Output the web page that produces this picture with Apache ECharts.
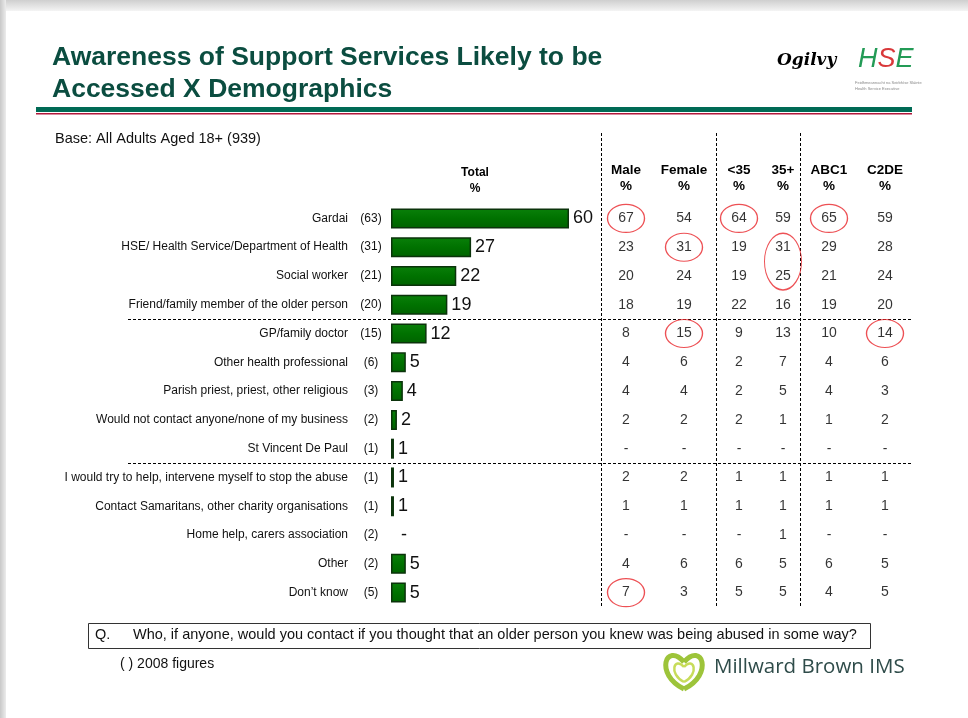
<!DOCTYPE html>
<html>
<head>
<meta charset="utf-8">
<title>Awareness of Support Services Likely to be Accessed X Demographics</title>
<script src="https://cdn.jsdelivr.net/npm/echarts@6/dist/echarts.min.js"></script>
<style>
  html, body { margin: 0; padding: 0; background: #fff; }
  #chart { width: 968px; height: 718px; }
</style>
</head>
<body>
<div id="chart"></div>
<script>
// rows, top to bottom
const services = [
  'Gardai',
  'HSE/ Health Service/Department of Health',
  'Social worker',
  'Friend/family member of the older person',
  'GP/family doctor',
  'Other health professional',
  'Parish priest, priest, other religious',
  'Would not contact anyone/none of my business',
  'St Vincent De Paul',
  'I would try to help, intervene myself to stop the abuse',
  'Contact Samaritans, other charity organisations',
  'Home help, carers association',
  'Other',
  'Don\u2019t know'
]
// ( ) 2008 figures
const figures2008 = [63, 31, 21, 20, 15, 6, 3, 2, 1, 1, 1, 2, 2, 5]
const total = [60, 27, 22, 19, 12, 5, 4, 2, 1, 1, 1, '-', 5, 5]

const male = [67, 23, 20, 18, 8, 4, 4, 2, '-', 2, 1, '-', 4, 7]
const female = [54, 31, 24, 19, 15, 6, 4, 2, '-', 2, 1, '-', 6, 3]
const under35 = [64, 19, 19, 22, 9, 2, 2, 2, '-', 1, 1, '-', 6, 5]
const over35 = [59, 31, 25, 16, 13, 7, 5, 1, '-', 1, 1, 1, 5, 5]
const abc1 = [65, 29, 21, 19, 10, 4, 4, 1, '-', 1, 1, '-', 6, 4]
const c2de = [59, 28, 24, 20, 14, 6, 3, 2, '-', 1, 1, '-', 5, 5]

const genderCols = ['Male', 'Female']
const ageCols = ['<35', '35+']
const segCols = ['ABC1', 'C2DE']

// red rings drawn on the slide: [column, row index, rows spanned]
const circled = [
  ['Male', 0, 1], ['<35', 0, 1], ['ABC1', 0, 1],
  ['Female', 1, 1], ['35+', 1, 2],
  ['Female', 4, 1], ['C2DE', 4, 1],
  ['Male', 13, 1]
]

const columnValues = {
  'Male': male, 'Female': female, '<35': under35,
  '35+': over35, 'ABC1': abc1, 'C2DE': c2de
}

const FONT = '"Liberation Sans", Arial, sans-serif'
const GRID_TOP = 204
const GRID_BOTTOM = 111
const ROW_H = (718 - GRID_TOP - GRID_BOTTOM) / services.length
const ELLIPSE = 'path://M0,50 A50,50 0 1,1 100,50 A50,50 0 1,1 0,50 Z'

let chartDom = document.getElementById('chart')
let myChart = echarts.init(chartDom, null, { renderer: 'canvas' })

function yAxisFor(gridIndex, showLabels) {
  return {
    type: 'category',
    gridIndex: gridIndex,
    data: services,
    inverse: true,
    axisLine: { show: false },
    axisTick: { show: false },
    splitLine: { show: false },
    axisLabel: showLabels ? {
      margin: 5,
      formatter: function (v, i) {
        return '{n|' + v + '}{p|(' + figures2008[i] + ')}'
      },
      rich: {
        n: { fontFamily: FONT, fontSize: 12, color: '#111', padding: [0, 8, 0, 0] },
        p: { fontFamily: FONT, fontSize: 12, color: '#111', width: 30, align: 'center' }
      }
    } : { show: false }
  }
}

function headerAxis(gridIndex, cols) {
  return {
    type: 'category',
    gridIndex: gridIndex,
    data: cols,
    position: 'top',
    axisLine: { show: false },
    axisTick: { show: false },
    splitLine: { show: false },
    axisLabel: {
      margin: 10,
      interval: 0,
      formatter: function (v) { return '{h|' + v + '}\n{h|%}' },
      rich: {
        h: { fontFamily: FONT, fontSize: 13.5, fontWeight: 'bold', color: '#000', lineHeight: 16, align: 'center' }
      }
    }
  }
}

function tableSeries(gridIndex, cols) {
  let data = []
  cols.forEach(c => {
    columnValues[c].forEach((v, i) => {
      data.push({ value: [c, services[i]], txt: String(v) })
    })
  })
  return {
    type: 'scatter',
    xAxisIndex: gridIndex,
    yAxisIndex: gridIndex,
    symbolSize: 1,
    itemStyle: { color: 'rgba(0,0,0,0)' },
    silent: true,
    label: {
      show: true,
      position: 'inside',
      fontFamily: FONT,
      fontSize: 14,
      color: '#000',
      formatter: p => p.data.txt
    },
    data: data
  }
}

function ringSeries(gridIndex, cols) {
  let data = circled.filter(c => cols.indexOf(c[0]) >= 0).map(c => ({
    value: [c[0], services[c[1]]],
    symbolSize: [37, c[2] === 1 ? 28 : 28 + ROW_H],
    symbolOffset: [0, (c[2] - 1) * ROW_H / 2]
  }))
  return {
    type: 'scatter',
    xAxisIndex: gridIndex,
    yAxisIndex: gridIndex,
    symbol: ELLIPSE,
    z: 5,
    silent: true,
    itemStyle: { color: 'rgba(0,0,0,0)', borderColor: '#e8262a', borderWidth: 1.2 },
    data: data
  }
}

function dashed(x1, y1, x2, y2) {
  return {
    type: 'line',
    silent: true,
    shape: { x1: x1, y1: y1, x2: x2, y2: y2 },
    style: { stroke: '#000', lineWidth: 1, lineDash: [3, 2] }
  }
}

function txt(x, y, text, style) {
  return {
    type: 'text', x: x, y: y, silent: true,
    style: Object.assign({ text: text, fontFamily: FONT, fill: '#111' }, style)
  }
}

function heartHalf(cx, bottom, top, dx, stroke, width) {
  return {
    type: 'bezierCurve', silent: true,
    shape: {
      x1: cx, y1: bottom, x2: cx, y2: top,
      cpx1: cx + dx * 1.0, cpy1: bottom - (bottom - top) * 0.55,
      cpx2: cx + dx * 0.6, cpy2: top - (bottom - top) * 0.75
    },
    style: { stroke: stroke, lineWidth: width, fill: null }
  }
}

const rule1 = Math.round(GRID_TOP + 4 * ROW_H) + 0.5
const rule2 = Math.round(GRID_TOP + 9 * ROW_H) + 0.5

let option = {
  animation: false,
  backgroundColor: '#fff',
  grid: [
    { left: 391, width: 178, top: GRID_TOP, bottom: GRID_BOTTOM },
    { left: 597, width: 116, top: GRID_TOP, bottom: GRID_BOTTOM },
    { left: 717, width: 88, top: GRID_TOP, bottom: GRID_BOTTOM },
    { left: 801, width: 112, top: GRID_TOP, bottom: GRID_BOTTOM }
  ],
  xAxis: [
    { type: 'value', gridIndex: 0, min: 0, max: 60, show: false },
    headerAxis(1, genderCols),
    headerAxis(2, ageCols),
    headerAxis(3, segCols)
  ],
  yAxis: [yAxisFor(0, true), yAxisFor(1, false), yAxisFor(2, false), yAxisFor(3, false)],
  series: [
    {
      name: 'Total',
      type: 'bar',
      xAxisIndex: 0,
      yAxisIndex: 0,
      barWidth: 20,
      itemStyle: {
        color: new echarts.graphic.LinearGradient(0, 0, 0, 1, [
          { offset: 0, color: '#0a800a' },
          { offset: 0.5, color: '#007200' },
          { offset: 1, color: '#006200' }
        ]),
        borderColor: '#0b330b',
        borderWidth: 1.5
      },
      label: {
        show: true,
        position: 'right',
        distance: 4,
        fontFamily: FONT,
        fontSize: 18,
        color: '#111',
        formatter: p => String(total[p.dataIndex])
      },
      data: total.map(v => (v === '-'
        ? { value: 0, itemStyle: { borderWidth: 0, color: 'rgba(0,0,0,0)' }, label: { distance: 10 } }
        : v))
    },
    tableSeries(1, genderCols),
    tableSeries(2, ageCols),
    tableSeries(3, segCols),
    ringSeries(1, genderCols),
    ringSeries(2, ageCols),
    ringSeries(3, segCols)
  ],
  graphic: [
    // slide shadow along the top and left edges
    {
      type: 'rect', silent: true, z: -10,
      shape: { x: 0, y: 0, width: 968, height: 11 },
      style: {
        fill: new echarts.graphic.LinearGradient(0, 0, 0, 1, [
          { offset: 0, color: '#cfcfcf' }, { offset: 1, color: '#f4f4f4' }
        ])
      }
    },
    {
      type: 'rect', silent: true, z: -10,
      shape: { x: 0, y: 0, width: 6, height: 718 },
      style: {
        fill: new echarts.graphic.LinearGradient(0, 0, 1, 0, [
          { offset: 0, color: '#c8c8c8' }, { offset: 1, color: '#ececec' }
        ])
      }
    },
    // title
    txt(52, 42, 'Awareness of Support Services Likely to be\nAccessed X Demographics',
      { fontSize: 26.5, fontWeight: 'bold', fill: '#0b4d40', lineHeight: 32 }),
    { type: 'rect', silent: true, shape: { x: 36, y: 107, width: 876, height: 5 }, style: { fill: '#006a55' } },
    { type: 'rect', silent: true, shape: { x: 36, y: 113, width: 876, height: 1.5 }, style: { fill: '#b0173a' } },
    // logos
    txt(777, 52, 'Ogilvy', { fontFamily: '"DejaVu Serif", serif', fontStyle: 'italic', fontWeight: 'bold', fontSize: 17, fill: '#000' }),
    {
      type: 'text', x: 858, y: 46, silent: true,
      style: {
        text: '{g|H}{r|S}{g|E}',
        rich: {
          g: { fontFamily: FONT, fontSize: 27, fill: '#239b56', fontStyle: 'italic' },
          r: { fontFamily: FONT, fontSize: 27, fill: '#d9383a', fontStyle: 'italic' }
        }
      }
    },
    txt(855, 80, 'Feidhmeannacht na Seirbhíse Sláinte\nHealth Service Executive', { fontSize: 4, lineHeight: 6, fill: '#888' }),
    // base
    txt(55, 131, 'Base: All Adults Aged 18+ (939)', { fontSize: 14.5 }),
    txt(475, 165, 'Total\n%', { align: 'center', fontSize: 12, fontWeight: 'bold', fill: '#000', lineHeight: 16 }),
    // table rules
    dashed(601.5, 133, 601.5, 606),
    dashed(716.5, 133, 716.5, 606),
    dashed(800.5, 133, 800.5, 606),
    dashed(128, rule1, 912, rule1),
    dashed(128, rule2, 912, rule2),
    // question box
    {
      type: 'rect', silent: true,
      shape: { x: 88.5, y: 623.5, width: 782, height: 25 },
      style: { fill: '#fff', stroke: '#333', lineWidth: 1 }
    },
    txt(95, 627, 'Q.', { fontSize: 14.5 }),
    txt(133, 627, 'Who, if anyone, would you contact if you thought that an older person you knew was being abused in some way?', { fontSize: 14.5 }),
    txt(120, 657, '( ) 2008 figures', { fontSize: 14 }),
    // Millward Brown IMS
    heartHalf(684, 689, 662, -30, '#9dc43a', 5),
    heartHalf(684, 689, 662, 30, '#9dc43a', 5),
    heartHalf(684, 682, 667, -16, '#c7dc5a', 2.5),
    heartHalf(684, 682, 667, 16, '#c7dc5a', 2.5),
    txt(714, 657, 'Millward Brown IMS', { fontFamily: '"Open Sans", sans-serif', fontSize: 20.5, fill: '#2f4c4a' })
  ]
}

option && myChart.setOption(option)
</script>
</body>
</html>
